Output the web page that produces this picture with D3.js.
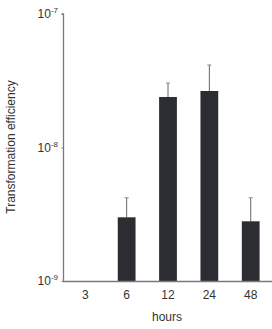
<!DOCTYPE html>
<html><head><meta charset="utf-8">
<script src="https://cdn.jsdelivr.net/npm/d3@7"></script>
<style>body{margin:0;background:#fff}svg{display:block}</style>
</head><body>
<script>
const categories = ["3","6","12","24","48"];
const values = [null, 3.0e-9, 2.39e-8, 2.65e-8, 2.8e-9];
const errTops = [null, 4.2e-9, 3.04e-8, 4.15e-8, 4.2e-9];
const yTicks = [1e-9, 1e-8, 1e-7];
const yTickExp = ["-9","-8","-7"];

const W = 272, H = 329;
const svg = d3.select("body").append("svg").attr("width", W).attr("height", H);
const font = "Arial, 'Liberation Sans', sans-serif";

const x = d3.scaleBand().domain(categories).range([64, 272]).paddingInner(0.57).paddingOuter(0.3);
const y = d3.scaleLog().domain([1e-9, 1e-7]).range([281, 14]);

const axisColor = "#7a7a7a";
// bars
categories.forEach((c, i) => {
  if (values[i] == null) return;
  svg.append("line")
    .attr("x1", x(c) + x.bandwidth()/2).attr("x2", x(c) + x.bandwidth()/2)
    .attr("y1", y(values[i])).attr("y2", y(errTops[i]))
    .attr("stroke", "#666").attr("stroke-width", 1);
  svg.append("line")
    .attr("x1", x(c) + x.bandwidth()/2 - 2).attr("x2", x(c) + x.bandwidth()/2 + 2)
    .attr("y1", y(errTops[i])).attr("y2", y(errTops[i]))
    .attr("stroke", "#888").attr("stroke-width", 1);
  svg.append("rect")
    .attr("x", x(c)).attr("width", x.bandwidth())
    .attr("y", y(values[i])).attr("height", y(1e-9) - y(values[i]))
    .attr("fill", "#2c2d33");
});

// y axis
const yAxis = svg.append("g").attr("transform", "translate(63.5,0)")
  .call(d3.axisLeft(y).tickValues(yTicks).tickSize(2).tickFormat(""));
yAxis.select(".domain").attr("stroke", axisColor).attr("stroke-width", 1.3).attr("d", `M-2,${y(1e-7)}H0V${y(1e-9)}`);
yAxis.selectAll(".tick line").attr("stroke", axisColor);
yTicks.forEach((t, i) => {
  const tx = svg.append("text").attr("x", 58).attr("y", y(t) + 4)
    .attr("text-anchor", "end").attr("font-family", font).attr("fill", "#333");
  tx.append("tspan").attr("font-size", 12).text("10");
  tx.append("tspan").attr("font-size", 8).attr("dy", -5).text(yTickExp[i]);
});

// x axis
const xAxis = svg.append("g").attr("transform", `translate(0,${y(1e-9) + 0.5})`)
  .call(d3.axisBottom(x).tickSize(0).tickPadding(9));
xAxis.select(".domain").attr("stroke", axisColor).attr("stroke-width", 1.3).attr("d", "M63,0H272");
xAxis.selectAll("text").attr("font-family", font).attr("font-size", 12).attr("fill", "#333");

svg.append("text").attr("x", 167).attr("y", 321).attr("text-anchor", "middle")
  .attr("font-family", font).attr("font-size", 12).attr("fill", "#333").text("hours");
svg.append("text").attr("transform", "translate(15,147) rotate(-90)").attr("text-anchor", "middle")
  .attr("font-family", font).attr("font-size", 12).attr("fill", "#333").text("Transformation efficiency");
</script>
</body></html>
